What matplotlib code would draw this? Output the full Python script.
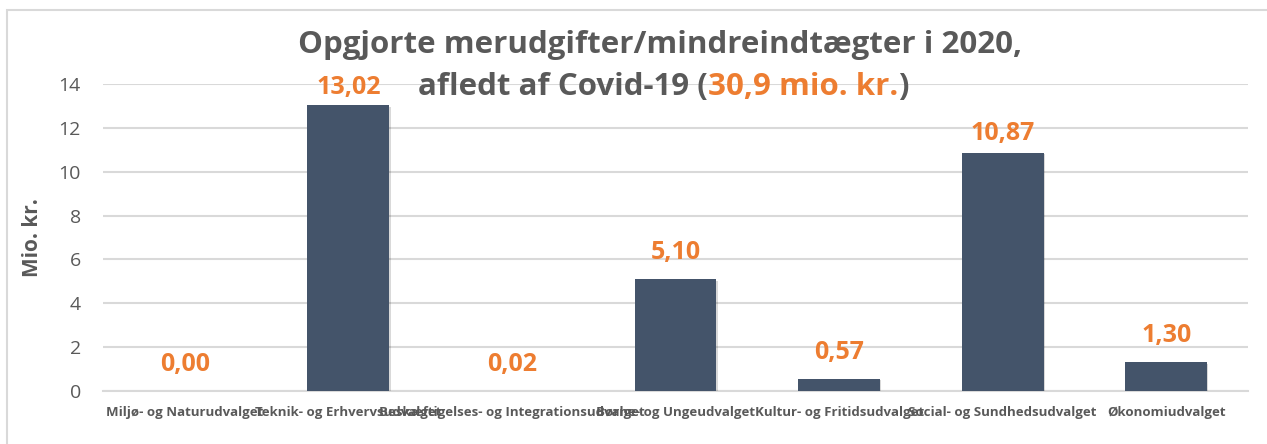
import matplotlib
matplotlib.use("Agg")
import matplotlib.pyplot as plt
import matplotlib.patheffects as pe
from matplotlib.patches import Rectangle

# Data
udvalg = ["Miljø- og Naturudvalget", "Teknik- og Erhvervsudvalget",
          "Beskæftigelses- og Integrationsudvalget", "Børne- og Ungeudvalget",
          "Kultur- og Fritidsudvalget", "Social- og Sundhedsudvalget",
          "Økonomiudvalget"]
beloeb = [0.00, 13.02, 0.02, 5.10, 0.57, 10.87, 1.30]
y_ticks = [0, 2, 4, 6, 8, 10, 12, 14]
total_tekst = "30,9 mio. kr."

# afstand fra søjletop til etiket (pixels) - de høje søjler har etiketten tættere på
label_gap = [20, 11, 20, 20, 20, 13, 20]

# Farver
bar_color = "#44546A"
orange = "#ED7D31"
grey_txt = "#595959"
grid_col = "#D9D9D9"

plt.rcParams['font.family'] = ['Open Sans', 'DejaVu Sans']

W, H = 1267, 444
fig = plt.figure(figsize=(W / 100, H / 100), dpi=100)
fig.patch.set_facecolor("white")

# ramme (kun top og venstre synlig)
fig.patches.append(Rectangle((7 / W, -0.1), 1.2, 1 - 10 / H + 0.1, transform=fig.transFigure,
                             fill=False, edgecolor="#D9D9D9", linewidth=1.5, zorder=0))

ax = fig.add_axes([103 / W, 53 / H, (1248 - 103) / W, (391 - 84) / H])
x = list(range(len(udvalg)))
bars = ax.bar(x, beloeb, width=0.5, color=bar_color, zorder=3)
for b in bars:
    b.set_path_effects([pe.SimplePatchShadow(offset=(1, -1), shadow_rgbFace="#000000", alpha=0.15),
                        pe.Normal()])

for i, v in enumerate(beloeb):
    ax.annotate(f"{v:.2f}".replace(".", ","), (i, v), xytext=(0, label_gap[i] * 0.72),
                textcoords="offset points", ha="center", va="baseline",
                color=orange, fontsize=18, fontweight="bold", zorder=4)

ax.set_xlim(-0.5, len(udvalg) - 0.5)
ax.set_ylim(0, 14)
ax.set_yticks(y_ticks)
ax.set_yticklabels([str(t) for t in y_ticks], fontsize=14, color=grey_txt)
ax.set_xticks(x)
ax.set_xticklabels(udvalg, fontsize=9.5, fontweight="bold", color=grey_txt)
ax.tick_params(axis="both", length=0)
ax.tick_params(axis="y", pad=16)
ax.tick_params(axis="x", pad=11)
ax.grid(axis="y", color=grid_col, linewidth=1.5, zorder=0)
for s in ["top", "right", "left"]:
    ax.spines[s].set_visible(False)
ax.spines["bottom"].set_color(grid_col)
ax.spines["bottom"].set_linewidth(1.5)
ax.set_ylabel("Mio. kr.", fontsize=15, fontweight="bold", color=grey_txt)
ax.yaxis.set_label_coords(-(103 - 43) / (1248 - 103), 0.5)

# Titel
cx = 660 / W
fig.text(cx, 1 - 53 / H, "Opgjorte merudgifter/mindreindtægter i 2020,", ha="center", va="baseline",
         fontsize=22.5, fontweight="bold", color=grey_txt)
yb = 1 - 95 / H
parts = [("afledt af Covid-19 (", grey_txt), (total_tekst, orange), (")", grey_txt)]
renderer = fig.canvas.get_renderer()
txts = [fig.text(0, yb, s, fontsize=22.5, fontweight="bold", color=c, va="baseline") for s, c in parts]
widths = [t.get_window_extent(renderer).width for t in txts]
xpos = 663 - sum(widths) / 2
for t, w in zip(txts, widths):
    t.set_x(xpos / W)
    xpos += w

fig.savefig("out.png", dpi=100)
